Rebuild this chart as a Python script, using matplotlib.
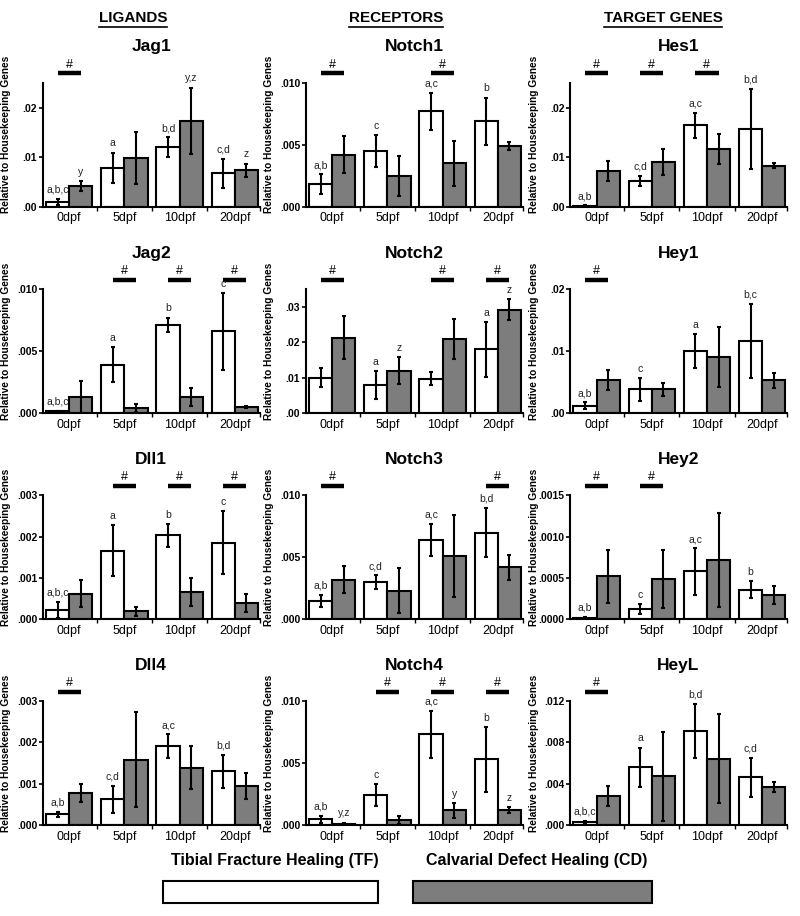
import matplotlib
matplotlib.use("Agg")
import matplotlib.pyplot as plt
from matplotlib.patches import Rectangle
from matplotlib.lines import Line2D

plt.rcParams['font.family'] = ['Liberation Sans', 'DejaVu Sans']

# 横軸カテゴリ
days = ["0dpf", "5dpf", "10dpf", "20dpf"]

# --- 値 (平均, 誤差) ---
jag1_tf = [0.0010, 0.0078, 0.0120, 0.0067]
jag1_tf_err = [0.0006, 0.0031, 0.0020, 0.0029]
jag1_cd = [0.0042, 0.0098, 0.0173, 0.0073]
jag1_cd_err = [0.0010, 0.0053, 0.0067, 0.0014]
jag1_tf_lab = ["a,b,c", "a", "b,d", "c,d"]
jag1_cd_lab = ["y", "", "y,z", "z"]
jag1_hash = [0]

notch1_tf = [0.0018, 0.0045, 0.0077, 0.0069]
notch1_tf_err = [0.0008, 0.0013, 0.0015, 0.0019]
notch1_cd = [0.0042, 0.0025, 0.0035, 0.0049]
notch1_cd_err = [0.0015, 0.0016, 0.0018, 0.0003]
notch1_tf_lab = ["a,b", "c", "a,c", "b"]
notch1_cd_lab = ["", "", "", ""]
notch1_hash = [0, 2]

hes1_tf = [0.0002, 0.0052, 0.0164, 0.0157]
hes1_tf_err = [0.0001, 0.0010, 0.0025, 0.0080]
hes1_cd = [0.0072, 0.0090, 0.0117, 0.0083]
hes1_cd_err = [0.0020, 0.0027, 0.0030, 0.0005]
hes1_tf_lab = ["a,b", "c,d", "a,c", "b,d"]
hes1_cd_lab = ["", "", "", ""]
hes1_hash = [0, 1, 2]

jag2_tf = [0.00013, 0.0039, 0.0071, 0.0066]
jag2_tf_err = [0.00005, 0.0014, 0.0006, 0.0031]
jag2_cd = [0.0013, 0.0004, 0.0013, 0.0005]
jag2_cd_err = [0.0013, 0.0003, 0.0007, 0.0001]
jag2_tf_lab = ["a,b,c", "a", "b", "c"]
jag2_cd_lab = ["", "", "", ""]
jag2_hash = [1, 2, 3]

notch2_tf = [0.0100, 0.0079, 0.0097, 0.0180]
notch2_tf_err = [0.0027, 0.0039, 0.0019, 0.0077]
notch2_cd = [0.0213, 0.0119, 0.0208, 0.0292]
notch2_cd_err = [0.0061, 0.0038, 0.0056, 0.0030]
notch2_tf_lab = ["", "a", "", "a"]
notch2_cd_lab = ["", "z", "", "z"]
notch2_hash = [0, 2, 3]

hey1_tf = [0.0012, 0.0038, 0.0100, 0.0116]
hey1_tf_err = [0.0005, 0.0018, 0.0027, 0.0060]
hey1_cd = [0.0053, 0.0038, 0.0090, 0.0053]
hey1_cd_err = [0.0016, 0.0011, 0.0048, 0.0012]
hey1_tf_lab = ["a,b", "c", "a", "b,c"]
hey1_cd_lab = ["", "", "", ""]
hey1_hash = [0]

dll1_tf = [0.00023, 0.00166, 0.00203, 0.00185]
dll1_tf_err = [0.00020, 0.00062, 0.00028, 0.00076]
dll1_cd = [0.00062, 0.00019, 0.00065, 0.00040]
dll1_cd_err = [0.00033, 0.00010, 0.00034, 0.00022]
dll1_tf_lab = ["a,b,c", "a", "b", "c"]
dll1_cd_lab = ["", "", "", ""]
dll1_hash = [1, 2, 3]

notch3_tf = [0.00147, 0.0030, 0.0064, 0.0070]
notch3_tf_err = [0.0005, 0.00055, 0.0013, 0.0020]
notch3_cd = [0.0032, 0.0023, 0.0051, 0.0042]
notch3_cd_err = [0.0011, 0.0018, 0.0033, 0.0010]
notch3_tf_lab = ["a,b", "c,d", "a,c", "b,d"]
notch3_cd_lab = ["", "", "", ""]
notch3_hash = [0, 3]

hey2_tf = [0.00002, 0.00012, 0.00058, 0.00036]
hey2_tf_err = [0.00001, 0.00006, 0.00028, 0.00010]
hey2_cd = [0.00052, 0.00049, 0.00072, 0.00029]
hey2_cd_err = [0.00032, 0.00035, 0.00057, 0.00011]
hey2_tf_lab = ["a,b", "c", "a,c", "b"]
hey2_cd_lab = ["", "", "", ""]
hey2_hash = [0, 1]

dll4_tf = [0.00026, 0.00062, 0.00190, 0.00130]
dll4_tf_err = [0.00006, 0.00032, 0.00029, 0.00040]
dll4_cd = [0.00078, 0.00158, 0.00138, 0.00094]
dll4_cd_err = [0.00022, 0.00115, 0.00052, 0.00032]
dll4_tf_lab = ["a,b", "c,d", "a,c", "b,d"]
dll4_cd_lab = ["", "", "", ""]
dll4_hash = [0]

notch4_tf = [0.00045, 0.0024, 0.0073, 0.0053]
notch4_tf_err = [0.0003, 0.0009, 0.0019, 0.0026]
notch4_cd = [0.0001, 0.0004, 0.0012, 0.0012]
notch4_cd_err = [0.0001, 0.0003, 0.0006, 0.00025]
notch4_tf_lab = ["a,b", "c", "a,c", "b"]
notch4_cd_lab = ["y,z", "", "y", "z"]
notch4_hash = [1, 2, 3]

heyl_tf = [0.0003, 0.0056, 0.0091, 0.0046]
heyl_tf_err = [0.0001, 0.0019, 0.0026, 0.0019]
heyl_cd = [0.0028, 0.0047, 0.0064, 0.0037]
heyl_cd_err = [0.0010, 0.0043, 0.0043, 0.0005]
heyl_tf_lab = ["a,b,c", "a", "b,d", "c,d"]
heyl_cd_lab = ["", "", "", ""]
heyl_hash = [0]

# パネル: (名前, TF, TF誤差, CD, CD誤差, TFラベル, CDラベル, #, y目盛り, 上限, 小数桁)
panels = [
   ("Jag1", jag1_tf, jag1_tf_err, jag1_cd, jag1_cd_err, jag1_tf_lab, jag1_cd_lab, jag1_hash, [0, .01, .02], .025, 2),
   ("Notch1", notch1_tf, notch1_tf_err, notch1_cd, notch1_cd_err, notch1_tf_lab, notch1_cd_lab, notch1_hash, [0, .005, .010], .010, 3),
   ("Hes1", hes1_tf, hes1_tf_err, hes1_cd, hes1_cd_err, hes1_tf_lab, hes1_cd_lab, hes1_hash, [0, .01, .02], .025, 2),
   ("Jag2", jag2_tf, jag2_tf_err, jag2_cd, jag2_cd_err, jag2_tf_lab, jag2_cd_lab, jag2_hash, [0, .005, .010], .010, 3),
   ("Notch2", notch2_tf, notch2_tf_err, notch2_cd, notch2_cd_err, notch2_tf_lab, notch2_cd_lab, notch2_hash, [0, .01, .02, .03], .035, 2),
   ("Hey1", hey1_tf, hey1_tf_err, hey1_cd, hey1_cd_err, hey1_tf_lab, hey1_cd_lab, hey1_hash, [0, .01, .02], .020, 2),
   ("Dll1", dll1_tf, dll1_tf_err, dll1_cd, dll1_cd_err, dll1_tf_lab, dll1_cd_lab, dll1_hash, [0, .001, .002, .003], .003, 3),
   ("Notch3", notch3_tf, notch3_tf_err, notch3_cd, notch3_cd_err, notch3_tf_lab, notch3_cd_lab, notch3_hash, [0, .005, .010], .010, 3),
   ("Hey2", hey2_tf, hey2_tf_err, hey2_cd, hey2_cd_err, hey2_tf_lab, hey2_cd_lab, hey2_hash, [0, .0005, .0010, .0015], .0015, 4),
   ("Dll4", dll4_tf, dll4_tf_err, dll4_cd, dll4_cd_err, dll4_tf_lab, dll4_cd_lab, dll4_hash, [0, .001, .002, .003], .003, 3),
   ("Notch4", notch4_tf, notch4_tf_err, notch4_cd, notch4_cd_err, notch4_tf_lab, notch4_cd_lab, notch4_hash, [0, .005, .010], .010, 3),
   ("HeyL", heyl_tf, heyl_tf_err, heyl_cd, heyl_cd_err, heyl_tf_lab, heyl_cd_lab, heyl_hash, [0, .004, .008, .012], .012, 3),
]

W, H = 800, 916
GRAY = "#7d7d7d"
fig = plt.figure(figsize=(W / 100, H / 100), dpi=100)

col_left = [42.7, 305.7, 570]
row_bottom = [206.7, 413, 619.3, 825]
ax_w, ax_h = 217, 124
bw = 0.42
x = list(range(4))

for n, (name, tf, tf_e, cd, cd_e, tf_l, cd_l, hashes, yt, ytop, dec) in enumerate(panels):
   r, c = divmod(n, 3)
   ax = fig.add_axes([col_left[c] / W, 1 - row_bottom[r] / H, ax_w / W, ax_h / H])
   xt = [i - bw / 2 for i in x]
   xc = [i + bw / 2 for i in x]
   ax.bar(xt, tf, bw, color="white", edgecolor="black", linewidth=1.5, zorder=2)
   ax.bar(xc, cd, bw, color=GRAY, edgecolor="black", linewidth=1.5, zorder=2)
   ax.errorbar(xt, tf, yerr=tf_e, fmt="none", ecolor="black", elinewidth=1.5, capsize=1.2, capthick=1.5, zorder=3)
   ax.errorbar(xc, cd, yerr=cd_e, fmt="none", ecolor="black", elinewidth=1.5, capsize=1.2, capthick=1.5, zorder=3)
   for i in x:
      for xx, m, e, lab in ((xt[i], tf[i], tf_e[i], tf_l[i]), (xc[i], cd[i], cd_e[i], cd_l[i])):
         if lab:
            ax.annotate(lab, (xx, m + e), xytext=(0, 3), textcoords="offset points",
                        ha="center", va="bottom", fontsize=7.5, color="#222222", annotation_clip=False)
   for g in hashes:
      ax.plot([g - bw / 2, g + bw / 2], [1.075, 1.075], color="black", linewidth=3.2,
              transform=ax.get_xaxis_transform(), clip_on=False, solid_capstyle="butt")
      ax.text(g, 1.145, "#", transform=ax.get_xaxis_transform(), ha="center", va="center", fontsize=9)
   ax.set_xlim(-0.48, 3.45)
   ax.set_ylim(0, ytop)
   ax.set_yticks(yt)
   ax.set_yticklabels([f"{v:.{dec}f}".lstrip("0") if v else "." + "0" * dec for v in yt],
                      fontsize=7.5, fontweight="bold")
   ax.set_xticks(x)
   ax.set_xticklabels(days, fontsize=9)
   ax.set_xticks([0.5, 1.5, 2.5, 3.45], minor=True)
   ax.tick_params(axis="x", which="major", length=0, pad=4)
   ax.tick_params(axis="x", which="minor", length=3, width=1, direction="out")
   ax.tick_params(axis="y", length=3, width=1.2, pad=1)
   for s in ("top", "right"):
      ax.spines[s].set_visible(False)
   for s in ("left", "bottom"):
      ax.spines[s].set_linewidth(1.5)
   ax.set_ylabel("Relative to Housekeeping Genes", fontsize=7.3, fontweight="bold")
   ax.yaxis.set_label_coords(-0.145, 0.58)
   ax.text(0.5, 1.29, name, transform=ax.transAxes, ha="center", va="center",
           fontsize=12.5, fontweight="bold")

# 列見出し (下線付き)
headers = [("LIGANDS", 133), ("RECEPTORS", 396), ("TARGET GENES", 663)]
hdr_texts = []
for txt, xp in headers:
   t = fig.text(xp / W, 1 - 18 / H, txt, ha="center", va="center", fontsize=11, fontweight="bold")
   hdr_texts.append(t)
fig.canvas.draw()
rend = fig.canvas.get_renderer()
for t in hdr_texts:
   bb = t.get_window_extent(rend)
   yl = bb.y0 - 2
   fig.add_artist(Line2D([bb.x0 / W, bb.x1 / W], [yl / H, yl / H], color="black", linewidth=1.2,
                         transform=fig.transFigure))

# 凡例
fig.text(275 / W, 1 - 860 / H, "Tibial Fracture Healing (TF)", ha="center", va="center",
         fontsize=11.5, fontweight="bold")
fig.text(537 / W, 1 - 860 / H, "Calvarial Defect Healing (CD)", ha="center", va="center",
         fontsize=11.5, fontweight="bold")
fig.add_artist(Rectangle((163 / W, 1 - 903 / H), 215 / W, 22 / H, facecolor="white",
                         edgecolor="black", linewidth=1.5, transform=fig.transFigure))
fig.add_artist(Rectangle((413 / W, 1 - 903 / H), 239 / W, 22 / H, facecolor=GRAY,
                         edgecolor="black", linewidth=1.5, transform=fig.transFigure))

plt.savefig("out.png", dpi=100)
